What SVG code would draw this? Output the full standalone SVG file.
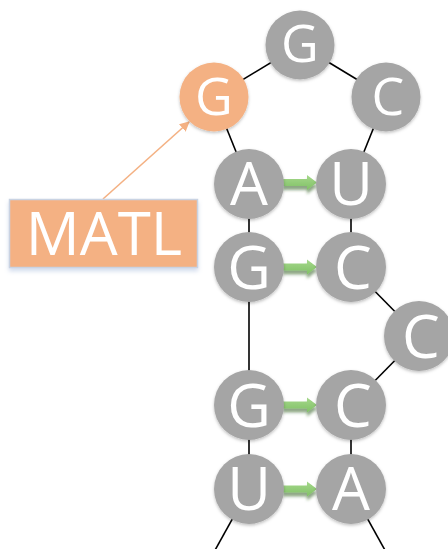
<svg xmlns="http://www.w3.org/2000/svg" width="448" height="549" viewBox="0 0 448 549">
  <defs>
    <style>
      .edge { stroke: #000; stroke-width: 1.6; fill: none; }
      .nt circle { fill: #a5a5a5; filter: url(#soft); }
      .nt.hl circle { fill: #f4b183; }
      .nt text { font-family: "Open Sans", "Noto Sans", sans-serif; font-size: 60px; fill: #fff; text-anchor: middle; }
      .nt.loop text { font-size: 52px; }
      .pair { fill: url(#pairFill); filter: url(#gshadow); }
      .callout { stroke: #f4b183; stroke-width: 1.6; fill: none; }
    </style>
    <linearGradient id="pairFill" x1="0" y1="0" x2="0" y2="1">
      <stop offset="0" stop-color="#a6d88c"/>
      <stop offset="1" stop-color="#80c165"/>
    </linearGradient>
    <filter id="soft" x="-30%" y="-30%" width="160%" height="160%">
      <feDropShadow dx="0" dy="1.5" stdDeviation="1.5" flood-color="#000" flood-opacity="0.25"/>
    </filter>
    <filter id="gshadow" x="-30%" y="-80%" width="160%" height="260%">
      <feDropShadow dx="0" dy="4" stdDeviation="1.5" flood-color="#2f5e22" flood-opacity="0.55"/>
    </filter>
    <filter id="boxshadow" x="-10%" y="-20%" width="120%" height="150%">
      <feDropShadow dx="0" dy="3" stdDeviation="2" flood-color="#9db4d8" flood-opacity="0.45"/>
    </filter>
    <marker id="orangeHead" markerWidth="10" markerHeight="10" refX="9" refY="5" orient="auto" markerUnits="userSpaceOnUse">
      <path d="M0,0 L10,5 L0,10 Z" fill="#f4b183"/>
    </marker>
    <!-- base-pair arrow shape, drawn from x=0 pointing right -->
    <path id="pairArrow" d="M0,-3.5 H24 V-7.5 L34,0 L24,7.5 V3.5 H0 Z"/>
  </defs>

  <g id="connectors">
    <line class="edge" x1="214" y1="97" x2="300" y2="45"/>
    <line class="edge" x1="300" y1="45" x2="386" y2="97"/>
    <line class="edge" x1="214" y1="97" x2="249" y2="184"/>
    <line class="edge" x1="386" y1="97" x2="351" y2="184"/>
    <line class="edge" x1="249" y1="184" x2="249" y2="267"/>
    <line class="edge" x1="351" y1="184" x2="351" y2="267"/>
    <line class="edge" x1="351" y1="267" x2="419" y2="336"/>
    <line class="edge" x1="249" y1="267" x2="249" y2="405"/>
    <line class="edge" x1="419" y1="336" x2="351" y2="405"/>
    <line class="edge" x1="249" y1="405" x2="249" y2="489"/>
    <line class="edge" x1="351" y1="405" x2="351" y2="489"/>
    <line class="edge" x1="249" y1="489" x2="214" y2="552"/>
    <line class="edge" x1="351" y1="489" x2="386" y2="552"/>
    <line class="callout" x1="103" y1="199" x2="189" y2="122" marker-end="url(#orangeHead)"/>
    <use href="#pairArrow" class="pair" x="283" y="182.5"/>
    <use href="#pairArrow" class="pair" x="283" y="267"/>
    <use href="#pairArrow" class="pair" x="283" y="405"/>
    <use href="#pairArrow" class="pair" x="283" y="489"/>
  </g>

  <g id="n-g1" class="nt hl loop"><circle cx="214" cy="97" r="34.5"/><text x="214" y="115">G</text></g>
  <g id="n-g2" class="nt loop"><circle cx="300" cy="45" r="34.5"/><text x="300" y="62">G</text></g>
  <g id="n-c1" class="nt loop"><circle cx="386" cy="97" r="34.5"/><text x="388" y="115">C</text></g>
  <g id="n-a1" class="nt"><circle cx="249" cy="184" r="35"/><text x="249" y="205">A</text></g>
  <g id="n-u1" class="nt"><circle cx="351" cy="184" r="35"/><text x="351" y="205">U</text></g>
  <g id="n-g3" class="nt"><circle cx="249" cy="267" r="35"/><text x="249" y="289">G</text></g>
  <g id="n-c2" class="nt"><circle cx="351" cy="267" r="35"/><text x="353" y="289">C</text></g>
  <g id="n-c3" class="nt"><circle cx="419" cy="336" r="35"/><text x="421" y="358">C</text></g>
  <g id="n-g4" class="nt"><circle cx="249" cy="405" r="35"/><text x="249" y="427">G</text></g>
  <g id="n-c4" class="nt"><circle cx="351" cy="405" r="35"/><text x="353" y="427">C</text></g>
  <g id="n-u2" class="nt"><circle cx="249" cy="489" r="35"/><text x="249" y="510">U</text></g>
  <g id="n-a2" class="nt"><circle cx="351" cy="489" r="35"/><text x="351" y="510">A</text></g>

  <g id="label-matl">
    <rect x="9.5" y="199.5" width="188" height="68" fill="#f4b183" stroke="#c9d3e3" stroke-width="1.5" filter="url(#boxshadow)"/>
    <text x="104" y="255" font-family="Open Sans, Noto Sans, sans-serif" font-size="60" fill="#fff" text-anchor="middle">MATL</text>
  </g>
</svg>
